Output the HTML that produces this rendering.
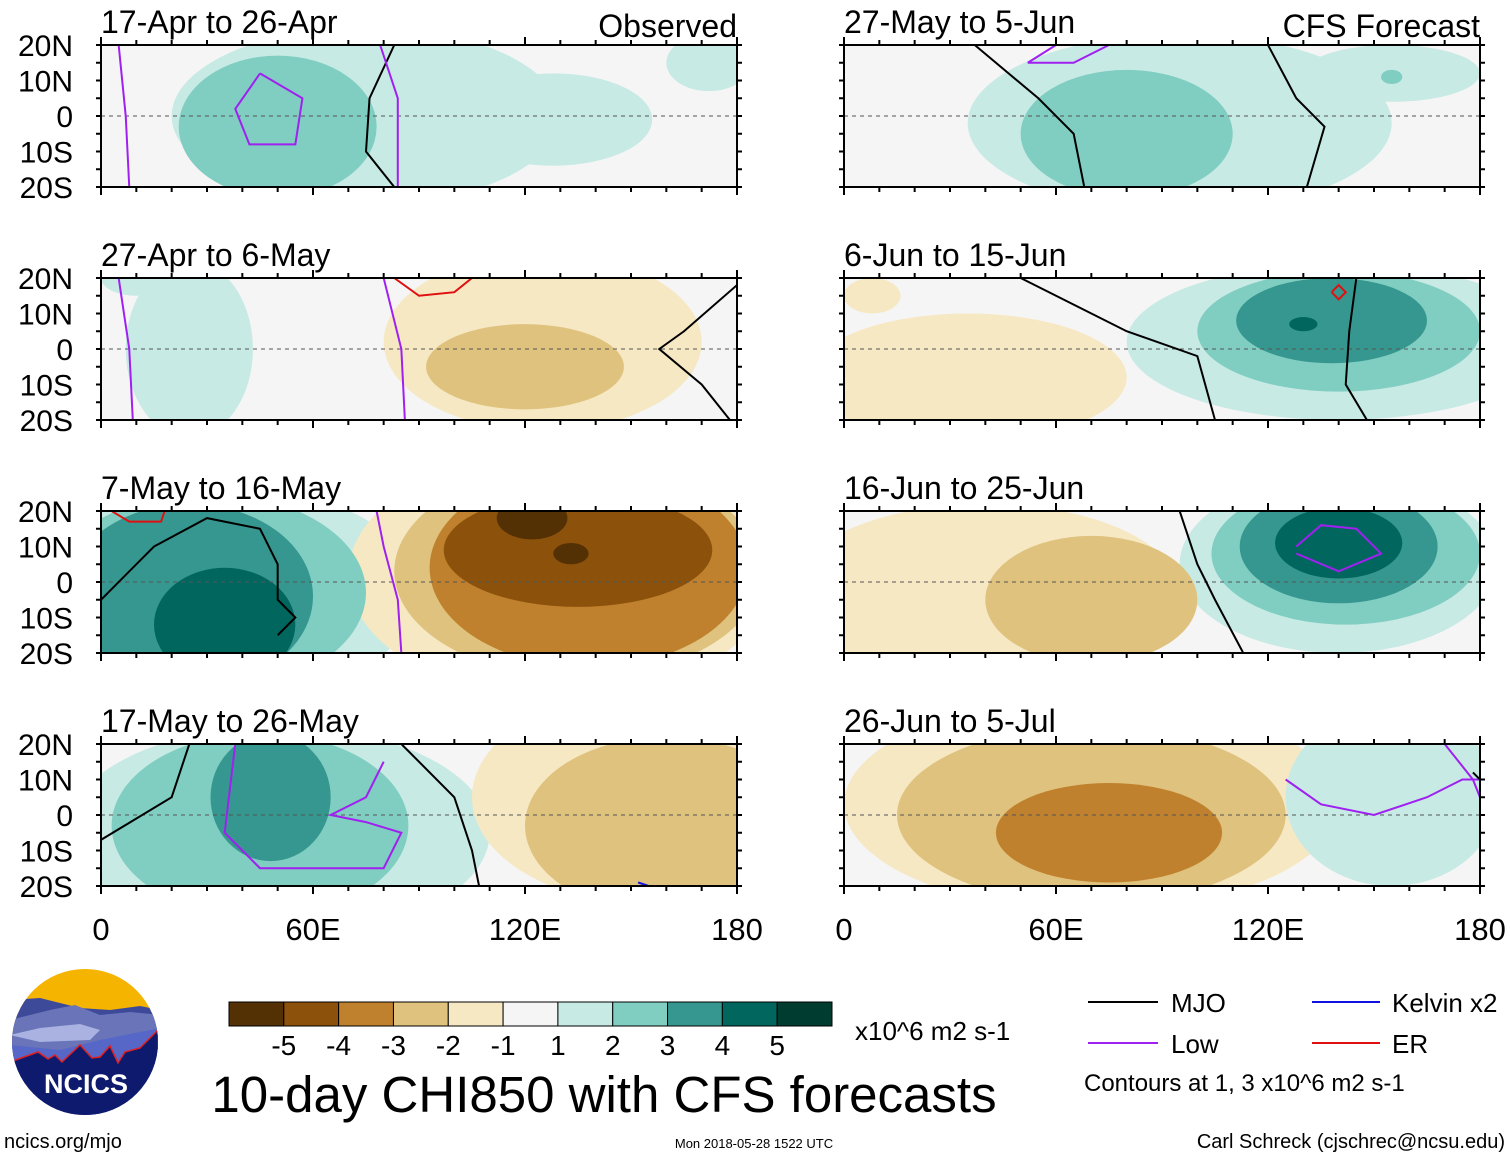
<!DOCTYPE html>
<html><head><meta charset="utf-8">
<style>
body{margin:0;background:#fff;font-family:"Liberation Sans",sans-serif;}
svg{display:block}
text{font-family:"Liberation Sans",sans-serif;}
</style></head>
<body>
<svg id="chart" width="1510" height="1158" viewBox="0 0 1510 1158" xmlns="http://www.w3.org/2000/svg">
<g id="panels"></g>
<g id="colorbar"></g>

<g>
<defs><clipPath id="logoclip"><circle cx="85" cy="1042" r="73"/></clipPath></defs>
<g clip-path="url(#logoclip)">
<rect x="10" y="968" width="150" height="150" fill="#f5b400"/>
<path d="M10 1000 L40 998 L60 1003 L80 1008 L110 1010 L140 1006 L160 1010 L160 1118 L10 1118Z" fill="#3d4a9a"/>
<path d="M10 1020 L50 1010 L75 1005 L100 1015 L130 1012 L160 1015 L160 1118 L10 1118Z" fill="#6a74b8"/>
<path d="M10 1035 L40 1028 L80 1024 L100 1030 L90 1040 L40 1042 Z" fill="#a9b2e0"/>
<path d="M10 1045 L60 1050 L100 1040 L160 1028 L160 1118 L10 1118Z" fill="#5667c8"/>
<path d="M10 1062 L38 1052 L48 1059 L55 1055 L62 1062 L80 1045 L92 1058 L100 1057 L110 1046 L118 1063 L125 1052 L140 1048 L158 1030 L160 1118 L10 1118Z" fill="#0d1a6e" stroke="#e02020" stroke-width="1.5"/>
</g>
<text x="86" y="1093" font-size="27" font-weight="bold" fill="#fff" text-anchor="middle">NCICS</text>
</g>
<text x="4" y="1148" font-size="20">ncics.org/mjo</text>
<text x="604" y="1112" font-size="51" text-anchor="middle">10-day CHI850 with CFS forecasts</text>
<text x="855" y="1040" font-size="26">x10^6 m2 s-1</text>
<text x="754" y="1148" font-size="13" text-anchor="middle">Mon 2018-05-28 1522 UTC</text>
<text x="1505" y="1148" font-size="20" text-anchor="end">Carl Schreck (cjschrec@ncsu.edu)</text>

<g>
<line x1="1088" y1="1002" x2="1158" y2="1002" stroke="#000" stroke-width="2"/>
<text x="1171" y="1012" font-size="26">MJO</text>
<line x1="1088" y1="1043" x2="1158" y2="1043" stroke="#a020f0" stroke-width="2"/>
<text x="1171" y="1053" font-size="26">Low</text>
<line x1="1312" y1="1002" x2="1380" y2="1002" stroke="#1010e0" stroke-width="2"/>
<text x="1392" y="1012" font-size="26">Kelvin x2</text>
<line x1="1312" y1="1043" x2="1380" y2="1043" stroke="#e01010" stroke-width="2"/>
<text x="1392" y="1053" font-size="26">ER</text>
<text x="1084" y="1091" font-size="24">Contours at 1, 3 x10^6 m2 s-1</text>
</g>
</svg>
<script>
const NS="http://www.w3.org/2000/svg";
const levels=[-5,-4,-3,-2,-1,1,2,3,4,5];
const levelColors=["#543005","#8c510a","#bf812d","#dfc27d","#f6e8c3","#f5f5f5","#c7eae5","#80cdc1","#35978f","#01665e","#003c30"];
const latTicks=["20N","10N","0","10S","20S"];
const lonTicks=["0","60E","120E","180"];
const panelTitles=["17-Apr to 26-Apr","27-Apr to 6-May","7-May to 16-May","17-May to 26-May","27-May to 5-Jun","6-Jun to 15-Jun","16-Jun to 25-Jun","26-Jun to 5-Jul"];
// blobs: [lon, lat, lonRadius, latRadius, level]
const blobs0=[[75,0,55,25,1],[128,-1,28,13,1],[172,15,12,8,1],[50,-3,28,20,2]];
const blobs1=[[25,0,18,25,1],[125,2,45,25,-1],[120,-5,28,12,-2],[10,20,10,5,1]];
const blobs2=[[35,-3,55,30,1],[30,-3,45,28,2],[25,-4,35,26,3],[35,-12,20,16,4],[130,2,60,35,-1],[135,3,52,30,-2],[138,4,45,28,-3],[135,9,38,16,-4],[122,18,10,6,-5],[133,8,5,3,-5]];
const blobs3=[[50,-5,60,30,1],[45,-3,42,26,2],[48,5,17,18,3],[155,5,50,30,-1],[160,-3,40,25,-2]];
const blobs4=[[95,-2,60,25,1],[80,-5,30,18,2],[155,12,25,8,1],[155,11,3,2,2]];
const blobs5=[[140,2,60,22,1],[140,5,40,17,2],[138,8,27,12,3],[130,7,4,2,4],[35,-8,45,18,-1],[8,15,8,5,-1]];
const blobs6=[[140,5,45,25,1],[142,8,38,20,2],[140,10,28,16,3],[140,11,18,10,4],[40,-3,55,25,-1],[70,-5,30,18,-2]];
const blobs7=[[70,3,70,30,-1],[70,0,55,25,-2],[75,-5,32,14,-3],[155,5,30,25,1]];
const allBlobs=[blobs0,blobs1,blobs2,blobs3,blobs4,blobs5,blobs6,blobs7];
const contours=[
 [["#000",[[83,20],[76,5],[75,-10],[83,-20]]],["#a020f0",[[45,12],[57,5],[55,-8],[42,-8],[38,2],[45,12]]],["#a020f0",[[5,20],[7,0],[8,-20]]],["#a020f0",[[79,20],[84,5],[84,-20]]]],
 [["#000",[[180,18],[165,5],[158,0],[170,-10],[178,-20]]],["#a020f0",[[80,20],[85,0],[86,-20]]],["#a020f0",[[5,20],[8,0],[9,-20]]],["#e01010",[[83,20],[90,15],[100,16],[105,20]]]],
 [["#000",[[0,-5],[15,10],[30,18],[45,15],[50,5],[50,-5],[55,-10],[50,-15]]],["#a020f0",[[85,-20],[84,-5],[80,10],[78,20]]],["#e01010",[[3,20],[8,17],[17,17],[18,20]]]],
 [["#000",[[0,-7],[20,5],[25,20]]],["#000",[[85,20],[100,5],[105,-10],[107,-20]]],["#a020f0",[[38,20],[35,-5],[45,-15],[80,-15],[85,-5],[75,-2],[65,0],[75,5],[80,15]]],["#1010e0",[[152,-19],[155,-20]]]],
 [["#000",[[37,20],[55,5],[65,-5],[68,-20]]],["#000",[[120,20],[128,5],[136,-3],[131,-20]]],["#a020f0",[[52,15],[60,20],[75,20],[65,15],[52,15]]]],
 [["#000",[[50,20],[80,5],[100,-2],[105,-20]]],["#000",[[145,20],[143,5],[142,-10],[148,-20]]],["#e01010",[[138,16],[140,18],[142,16],[140,14],[138,16]]]],
 [["#000",[[95,20],[100,5],[105,-5],[113,-20]]],["#a020f0",[[128,10],[135,16],[145,15],[152,8],[140,3],[128,8]]]],
 [["#a020f0",[[125,10],[135,3],[150,0],[165,5],[175,10],[180,10]]],["#a020f0",[[170,20],[178,10],[180,5]]],["#000",[[178,12],[180,10]]]]
];
const PX=[101,844], PY=[45,278,511,744], PW=636, PH=142;
const panels=document.getElementById('panels');
function mk(tag,attrs,parent){const e=document.createElementNS(NS,tag);for(const k in attrs)e.setAttribute(k,attrs[k]);parent.appendChild(e);return e;}
function colorFor(lv){const i=levels.indexOf(lv);return lv<0?levelColors[i]:levelColors[i+1];}
for(let p=0;p<8;p++){
  const col=p<4?0:1,row=p%4,x0=PX[col],y0=PY[row];
  const X=lon=>x0+lon/180*PW, Y=lat=>y0+(20-lat)/40*PH;
  const g=mk('g',{},panels);
  
  
  const cp=mk('clipPath',{id:'cp'+p},g);
  mk('rect',{x:x0,y:y0,width:PW,height:PH},cp);
  mk('rect',{x:x0,y:y0,width:PW,height:PH,fill:'#f5f5f5'},g);
  const inner=mk('g',{'clip-path':'url(#cp'+p+')'},g);
  const bl=allBlobs[p].slice().sort((a,b)=>Math.abs(a[4])-Math.abs(b[4]));
  bl.forEach(b=>{
    const e=mk('ellipse',{cx:X(b[0]),cy:Y(b[1]),rx:b[2]/180*PW,ry:b[3]/40*PH,fill:colorFor(b[4])},inner);
    
    
  });
  mk('line',{x1:x0,y1:Y(0),x2:x0+PW,y2:Y(0),stroke:'#555','stroke-dasharray':'4,4','stroke-width':1},inner);
  contours[p].forEach(c=>{
    const pl=mk('polyline',{points:c[1].map(q=>X(q[0])+','+Y(q[1])).join(' '),fill:'none',stroke:c[0],'stroke-width':2},inner);
    
    
  });
  mk('rect',{x:x0,y:y0,width:PW,height:PH,fill:'none',stroke:'#000','stroke-width':2},g);
  for(let l=0;l<=180;l+=10){const t=l%60==0?8:5;mk('line',{x1:X(l),y1:y0,x2:X(l),y2:y0-t,stroke:'#000','stroke-width':2},g);mk('line',{x1:X(l),y1:y0+PH,x2:X(l),y2:y0+PH+t,stroke:'#000','stroke-width':2},g);}
  for(let a=-20;a<=20;a+=5){mk('line',{x1:x0,y1:Y(a),x2:x0-5,y2:Y(a),stroke:'#000','stroke-width':2},g);mk('line',{x1:x0+PW,y1:Y(a),x2:x0+PW+5,y2:Y(a),stroke:'#000','stroke-width':2},g);}
  const t=mk('text',{x:x0,y:y0-12,'font-size':32},g);t.textContent=panelTitles[p];
  
  
  if(col==0){latTicks.forEach((s,i)=>{const tt=mk('text',{x:73,y:Y(20-i*10)+11,'font-size':30,'text-anchor':'end'},g);tt.textContent=s;
    
    });}
}
let ob=mk('text',{x:737,y:37,'font-size':32,'text-anchor':'end'},panels);ob.textContent='Observed';


let cf=mk('text',{x:1480,y:37,'font-size':32,'text-anchor':'end'},panels);cf.textContent='CFS Forecast';


[0,1].forEach(c=>lonTicks.forEach((s,i)=>{const tt=mk('text',{x:PX[c]+i*PW/3,y:940,'font-size':31,'text-anchor':'middle'},panels);tt.textContent=s;
  
  }));
const cb=document.getElementById('colorbar');
const cbX=229,cbW=603,cbY=1002,cbH=24,bw=cbW/levelColors.length;
levelColors.forEach((c,i)=>{const r=mk('rect',{x:cbX+i*bw,y:cbY,width:bw,height:cbH,fill:c,stroke:'#000','stroke-width':1},cb);
  
  });
levels.forEach((v,i)=>{const t=mk('text',{x:cbX+(i+1)*bw,y:1055,'font-size':28,'text-anchor':'middle'},cb);t.textContent=String(v);
  
  });
</script>
</body></html>
